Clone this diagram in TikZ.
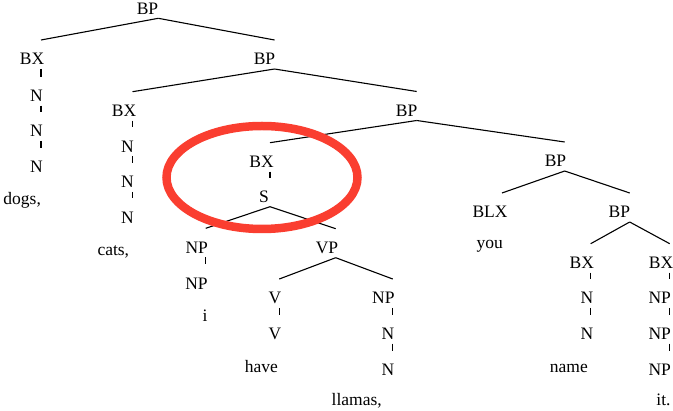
\documentclass[tikz,border=0pt]{standalone}
\usepackage{fontspec}
\setmainfont{Liberation Serif}
\usetikzlibrary{calc}

\definecolor{markred}{RGB}{250,62,48}

% tree node: name, x of the branch lines, baseline y, x of the label centre, label
\newcommand\treenode[5]{%
  \coordinate (#1) at (#2,#3);
  \node[lbl] (#1-t) at (#4,#3) {#5};}
% branch from parent to child, running from under the parent label to above the child label
\newcommand\branch[2]{\draw[edge] ($(#1)+(0,4)$) -- ($(#2)+(0,-25)$);}

\begin{document}
\begin{tikzpicture}[x=1pt,y=-1pt,
  lbl/.style={anchor=base,inner sep=0pt,font=\fontsize{17.5}{20}\selectfont},
  edge/.style={line width=1.1pt,line cap=butt}]
\useasboundingbox (0,0) rectangle (673,411);

% top level
\treenode{bp0}{158.3}{14.3}{147.5}{BP}
\treenode{bx1}{41}{65}{32}{BX}
\treenode{n1a}{41}{101.7}{36.5}{N}
\treenode{n1b}{41}{137}{36.5}{N}
\treenode{n1c}{41}{173}{36.5}{N}
\node[lbl] (w-dogs) at (22.2,204.5) {dogs,};

\treenode{bp1}{274.5}{65}{264.5}{BP}
\treenode{bx2}{132.5}{116.7}{124}{BX}
\treenode{n2a}{132.5}{152.3}{127.5}{N}
\treenode{n2b}{132.5}{188}{127.5}{N}
\treenode{n2c}{132.5}{223.5}{127.5}{N}
\node[lbl] (w-cats) at (113.3,255.5) {cats,};

% clause
\treenode{bp2}{416.7}{116.5}{406.7}{BP}
\treenode{bx3}{270}{167.7}{261.5}{BX}
\treenode{s}{270}{202.7}{264}{S}
\treenode{npa}{205.7}{253.3}{196.7}{NP}
\treenode{npa2}{205.7}{289.3}{196.5}{NP}
\node[lbl] (w-i) at (205,321.5) {i};
\treenode{vp}{335.7}{253.7}{327}{VP}
\treenode{v1}{279.3}{304}{275}{V}
\treenode{v2}{279.3}{339.7}{275}{V}
\node[lbl] (w-have) at (261.3,372.3) {have};
\treenode{npb}{392.7}{304}{383.3}{NP}
\treenode{nb1}{392.7}{339.7}{388}{N}
\treenode{nb2}{392.7}{375.7}{388}{N}
\node[lbl] (w-llamas) at (356.7,406) {llamas,};

% right part
\treenode{bp3}{564.7}{167}{555.5}{BP}
\treenode{blx}{502}{218}{490}{BLX}
\node[lbl] (w-you) at (489.7,249) {you};
\treenode{bp4}{629.7}{218}{619.3}{BP}
\treenode{bx4}{590.7}{268.7}{581.9}{BX}
\treenode{n4a}{590.7}{304}{586.9}{N}
\treenode{n4b}{590.7}{339.7}{586.9}{N}
\node[lbl] (w-name) at (568.9,372.3) {name};
\treenode{bx5}{669.7}{268.7}{661}{BX}
\treenode{np5a}{669.7}{304}{659.7}{NP}
\treenode{np5b}{669.7}{339.7}{659.7}{NP}
\treenode{np5c}{669.7}{375.7}{659.7}{NP}
\node[lbl] (w-it) at (663.5,406) {it.};

% branches
\branch{bp0}{bx1}\branch{bp0}{bp1}
\branch{bx1}{n1a}\branch{n1a}{n1b}\branch{n1b}{n1c}
\branch{bp1}{bx2}\branch{bp1}{bp2}
\branch{bx2}{n2a}\branch{n2a}{n2b}\branch{n2b}{n2c}
\branch{bp2}{bx3}\branch{bp2}{bp3}
\branch{bx3}{s}\branch{s}{npa}\branch{s}{vp}
\branch{npa}{npa2}
\branch{vp}{v1}\branch{vp}{npb}
\branch{v1}{v2}
\branch{npb}{nb1}\branch{nb1}{nb2}
\branch{bp3}{blx}\branch{bp3}{bp4}
\branch{bp4}{bx4}\branch{bp4}{bx5}
\branch{bx4}{n4a}\branch{n4a}{n4b}
\branch{bx5}{np5a}\branch{np5a}{np5b}\branch{np5b}{np5c}

% highlight ring around the BX/S part
\draw[markred,line width=8.5pt] (262,177.5) ellipse [x radius=95.5pt,y radius=51.5pt];
\end{tikzpicture}
\end{document}
